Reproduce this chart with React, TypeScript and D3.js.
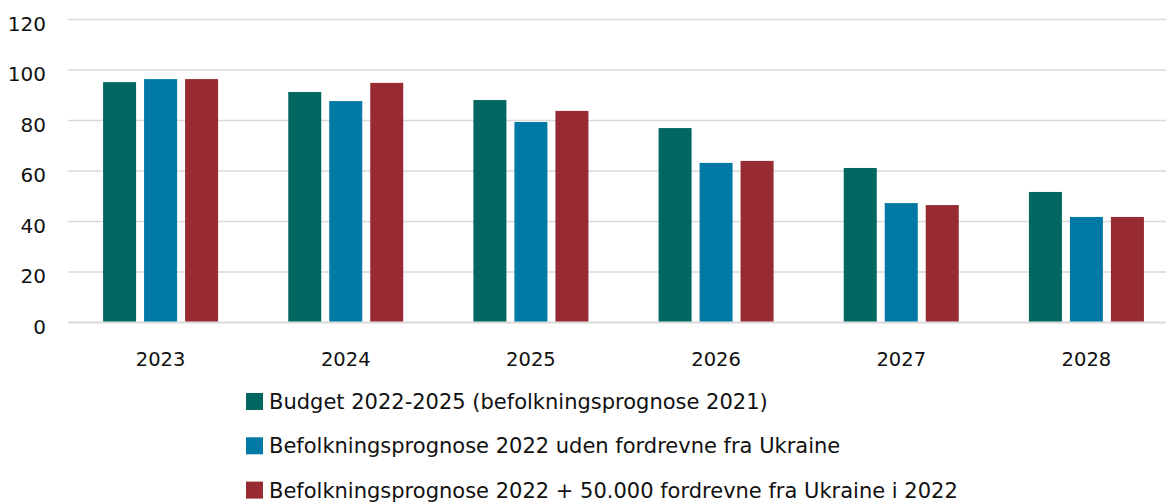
import React from "react";
import * as d3 from "d3";

const years = ["2023", "2024", "2025", "2026", "2027", "2028"];
const seriesNames = [
  "Budget 2022-2025 (befolkningsprognose 2021)",
  "Befolkningsprognose 2022 uden fordrevne fra Ukraine",
  "Befolkningsprognose 2022 + 50.000 fordrevne fra Ukraine i 2022",
];
const budget2021 = [95.2, 91.3, 88.1, 77.0, 61.2, 51.7];
const prognose2022 = [96.4, 87.7, 79.4, 63.2, 47.3, 41.8];
const prognoseUkraine = [96.4, 94.9, 83.8, 64.0, 46.5, 41.8];
const yTicks = [0, 20, 40, 60, 80, 100, 120];
const colors = ["#026661", "#007aa4", "#982a31"];

const W = 1166;
const H = 502;
const FONT = "'DejaVu Sans', sans-serif";

export default function App() {
  const series = [budget2021, prognose2022, prognoseUkraine];
  const x = d3.scaleBand<string>().domain(years).range([68, 1179]).paddingInner(0).paddingOuter(0);
  const y = d3.scaleLinear().domain([0, 120]).range([322.5, 19.5]);
  const barW = 33;
  const gap = 8;
  const groupW = barW * 3 + gap * 2;

  return (
    <svg width={W} height={H} style={{ position: "absolute", left: 0, top: 0, background: "#fff" }} fontFamily={FONT}>
      {yTicks.map((t) => (
        <g key={t}>
          <line x1={68} x2={W} y1={y(t)} y2={y(t)} stroke="#d9d9d9" strokeWidth={t === 0 ? 2 : 1.6} />
          <text x={46} y={y(t) + 11} textAnchor="end" fontSize={20} fill="#111">
            {t}
          </text>
        </g>
      ))}
      {years.map((yr, i) => {
        const cx = (x(yr) as number) + x.bandwidth() / 2;
        const x0 = cx - groupW / 2;
        return (
          <g key={yr}>
            {series.map((s, k) => (
              <rect
                key={k}
                x={x0 + k * (barW + gap)}
                y={y(s[i])}
                width={barW}
                height={y(0) - 1 - y(s[i])}
                fill={colors[k]}
              />
            ))}
            <text x={cx} y={366} textAnchor="middle" fontSize={19.5} fill="#111">
              {yr}
            </text>
          </g>
        );
      })}
      {seriesNames.map((name, k) => (
        <g key={name} transform={`translate(246, ${393 + k * 44.3})`}>
          <rect x={0} y={0} width={17} height={17} fill={colors[k]} />
          <text x={23} y={16} fontSize={21} fill="#111">
            {name}
          </text>
        </g>
      ))}
    </svg>
  );
}
